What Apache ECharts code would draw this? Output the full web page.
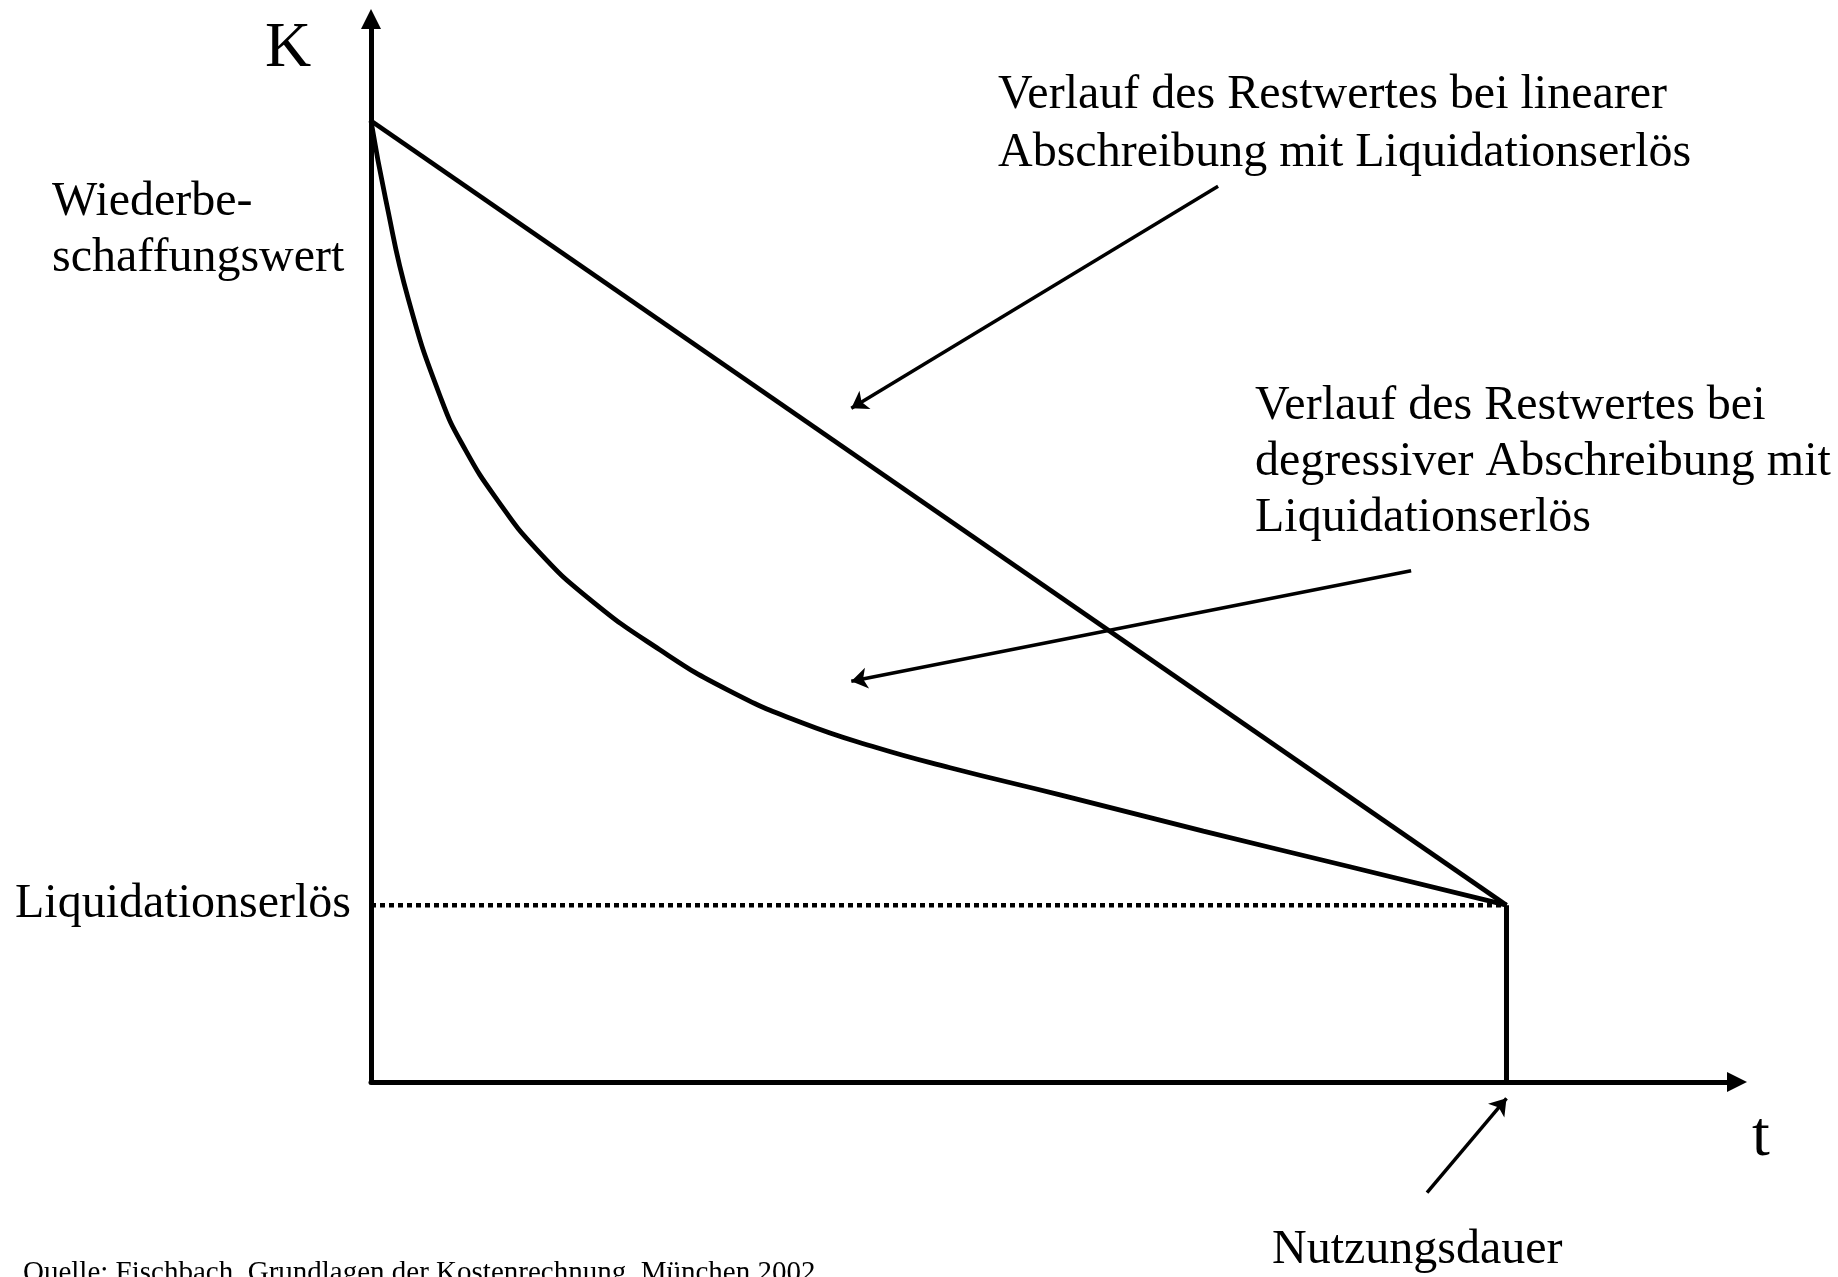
<!DOCTYPE html>
<html>
<head>
<meta charset="utf-8">
<title>Restwertverlauf</title>
<script src="https://cdn.jsdelivr.net/npm/echarts@6/dist/echarts.min.js"></script>
<style>
  html, body { margin: 0; padding: 0; background: #fff; }
  #main { width: 1838px; height: 1277px; }
</style>
</head>
<body>
<div id="main"></div>
<script>
// t = Nutzungsjahre, K = Restwert in % vom Wiederbeschaffungswert
var nutzungsdauer = 10;
var wiederbeschaffungswert = 100;
var liquidationserloes = 18.4;

var linearT = [0, 10];
var linearK = [100, 18.4];

var degressivT = [0, 0.13, 0.33, 0.62, 0.83, 1.11, 1.46, 1.93, 2.54, 3.14, 3.79, 4.45, 5.10, 6.06, 7.33, 8.62, 10];
var degressivK = [100, 91.8, 81.4, 71.0, 65.8, 60.6, 55.4, 50.2, 45.0, 40.8, 37.4, 34.8, 32.7, 29.9, 26.1, 22.4, 18.4];

// Hinweispfeile [von, nach]
var pfeile = [
    [[7.46, 93.2], [4.23, 70.1]],
    [[9.16, 53.2], [4.23, 41.7]],
    [[9.30, -11.5], [10, -1.7]]
];

function zip(xs, ys) {
    return xs.map(function (x, i) { return [x, ys[i]]; });
}

var FONT = '"Liberation Serif", "Times New Roman", serif';

// text an Grundlinie setzen
function txt(s, x, baseline, size) {
    return {
        type: 'text',
        x: x,
        y: baseline - 0.34 * size,
        silent: true,
        style: {
            text: s,
            fill: '#000',
            font: size + 'px ' + FONT,
            textAlign: 'left',
            textVerticalAlign: 'middle',
            align: 'left',
            verticalAlign: 'middle'
        }
    };
}

var myChart = echarts.init(document.getElementById('main'));

myChart.setOption({
    backgroundColor: '#fff',
    animation: false,
    grid: { left: 371, right: 101, top: 19, bottom: 195 },
    xAxis: {
        type: 'value',
        min: 0,
        max: 12.03,
        axisLine: {
            lineStyle: { color: '#000', width: 5 },
            symbol: ['none', 'triangle'],
            symbolSize: [20, 20]
        },
        axisTick: { show: false },
        axisLabel: { show: false },
        splitLine: { show: false }
    },
    yAxis: {
        type: 'value',
        min: 0,
        max: 110.6,
        axisLine: {
            show: true,
            lineStyle: { color: '#000', width: 5 },
            symbol: ['none', 'triangle'],
            symbolSize: [20, 20]
        },
        axisTick: { show: false },
        axisLabel: { show: false },
        splitLine: { show: false }
    },
    series: [
        {
            name: 'Liquidationserlös',
            type: 'line',
            data: zip([0, nutzungsdauer], [liquidationserloes, liquidationserloes]),
            symbol: 'none',
            lineStyle: { color: '#000', width: 4.5, type: [5, 4] },
            z: 1
        },
        {
            name: 'Nutzungsdauer',
            type: 'line',
            data: zip([nutzungsdauer, nutzungsdauer], [liquidationserloes, 0]),
            symbol: 'none',
            lineStyle: { color: '#000', width: 5 }
        },
        {
            name: 'linear',
            type: 'line',
            data: zip(linearT, linearK),
            symbol: 'none',
            lineStyle: { color: '#000', width: 4.8 }
        },
        {
            name: 'degressiv',
            type: 'line',
            data: zip(degressivT, degressivK),
            symbol: 'none',
            smooth: 0.5,
            lineStyle: { color: '#000', width: 4.8 }
        },
        {
            name: 'Pfeile',
            type: 'lines',
            coordinateSystem: 'cartesian2d',
            clip: false,
            symbol: ['none', 'arrow'],
            symbolSize: 16,
            lineStyle: { color: '#000', width: 3.5, opacity: 1, curveness: 0 },
            data: pfeile.map(function (p) { return { coords: p }; })
        }
    ],
    graphic: [
        txt('K', 265, 71, 64),
        txt('t', 1752, 1160, 64),
        txt('Wiederbe-', 52, 219, 48),
        txt('schaffungswert', 52, 275, 48),
        txt('Liquidationserlös', 15, 921, 48),
        txt('Verlauf des Restwertes bei linearer', 998, 112, 48),
        txt('Abschreibung mit Liquidationserlös', 998, 170, 48),
        txt('Verlauf des Restwertes bei', 1255, 423, 48),
        txt('degressiver Abschreibung mit', 1255, 479, 48),
        txt('Liquidationserlös', 1255, 535, 48),
        txt('Nutzungsdauer', 1272, 1267, 48),
        txt('Quelle: Fischbach, Grundlagen der Kostenrechnung, München 2002', 23, 1283, 29)
    ]
});
</script>
</body>
</html>
